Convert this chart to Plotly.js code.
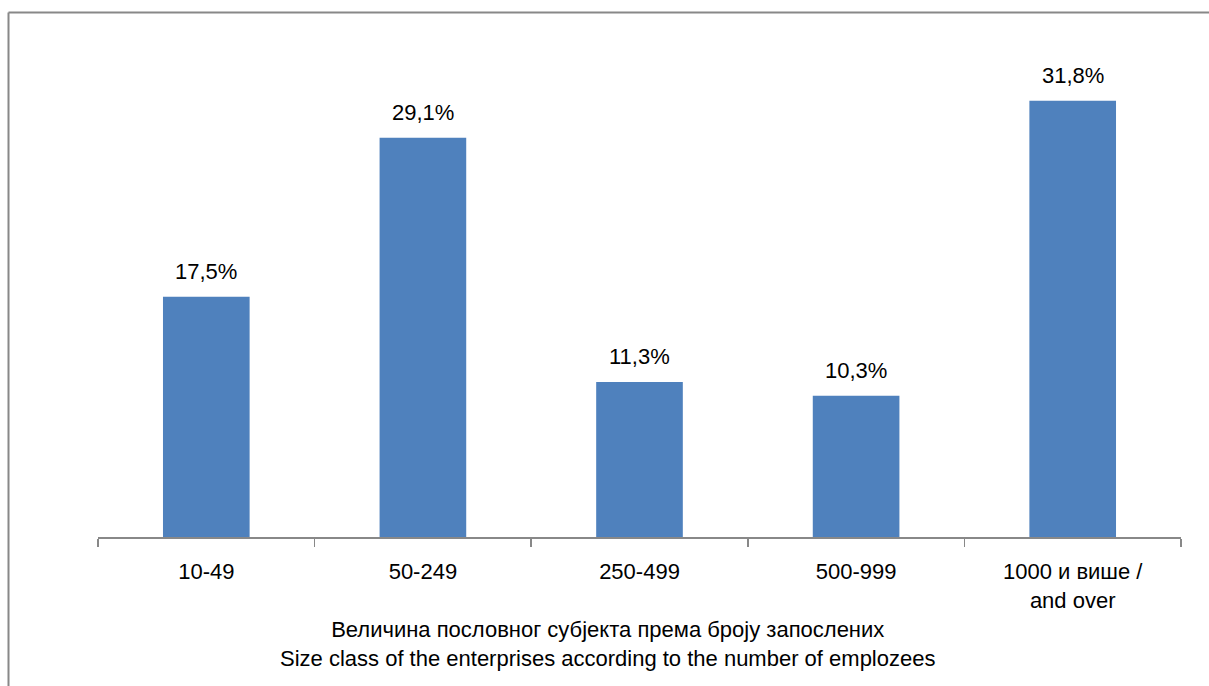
<!DOCTYPE html>
<html>
<head>
<meta charset="utf-8">
<script src="https://cdn.plot.ly/plotly-3.0.1.min.js"></script>
<style>
html,body{margin:0;padding:0;background:#fff;}
#chart{width:1209px;height:686px;}
</style>
</head>
<body>
<div id="chart"></div>
<script>
const categories = ["10-49", "50-249", "250-499", "500-999", "1000 и више /<br>and over"];
const shares = [17.5, 29.1, 11.3, 10.3, 31.8];
const axisTitleLines = ["Величина пословног субјекта према броју запослених", "Size class of the enterprises according to the number of emplozees"];

const labels = shares.map(v => v.toFixed(1).replace('.', ',') + '%');
const FONT = "Liberation Sans, Arial, sans-serif";

const L = 98, T = 43, W = 1083, H = 494;

const trace = {
  type: 'bar',
  x: categories,
  y: shares,
  marker: {color: '#4F81BD', line: {width: 0}},
  width: 0.4,
  hoverinfo: 'x+y'
};

const labelAnnotations = categories.map((c, i) => ({
  xref: 'x', yref: 'y',
  x: c, y: shares[i],
  text: labels[i],
  showarrow: false,
  xanchor: 'center', yanchor: 'bottom',
  yshift: 11,
  font: {family: FONT, size: 22, color: '#000'}
}));

const layout = {
  width: 1209, height: 686,
  margin: {l: L, r: 1209 - L - W, t: T, b: 686 - T - H},
  paper_bgcolor: '#fff',
  plot_bgcolor: '#fff',
  showlegend: false,
  font: {family: FONT, size: 22, color: '#000'},
  xaxis: {
    type: 'category',
    showline: true, linecolor: '#888', linewidth: 1.5,
    ticks: 'outside', tickson: 'boundaries', ticklen: 8, tickcolor: '#888', tickwidth: 1.5,
    showgrid: false, zeroline: false,
    tickfont: {family: FONT, size: 22, color: '#000'},
    ticklabelstandoff: 14
  },
  yaxis: {
    range: [0, 36],
    visible: false,
    showgrid: false, zeroline: false
  },
  annotations: labelAnnotations.concat([{
    xref: 'paper', yref: 'paper',
    x: (607 - L) / W, y: (T + H - 643.5) / H,
    xanchor: 'center', yanchor: 'middle',
    text: axisTitleLines.join('<br>'),
    showarrow: false,
    font: {family: FONT, size: 22, color: '#000'}
  }]),
  shapes: [
    {type: 'line', xref: 'paper', yref: 'paper',
     x0: (8.5 - L) / W, x1: (1215 - L) / W, y0: (T + H - 12.5) / H, y1: (T + H - 12.5) / H,
     line: {color: '#888', width: 2}},
    {type: 'line', xref: 'paper', yref: 'paper',
     x0: (8.5 - L) / W, x1: (8.5 - L) / W, y0: (T + H - 12.5) / H, y1: (T + H - 700) / H,
     line: {color: '#888', width: 2}}
  ]
};

Plotly.newPlot('chart', [trace], layout, {displayModeBar: false, staticPlot: true});
</script>
</body>
</html>
